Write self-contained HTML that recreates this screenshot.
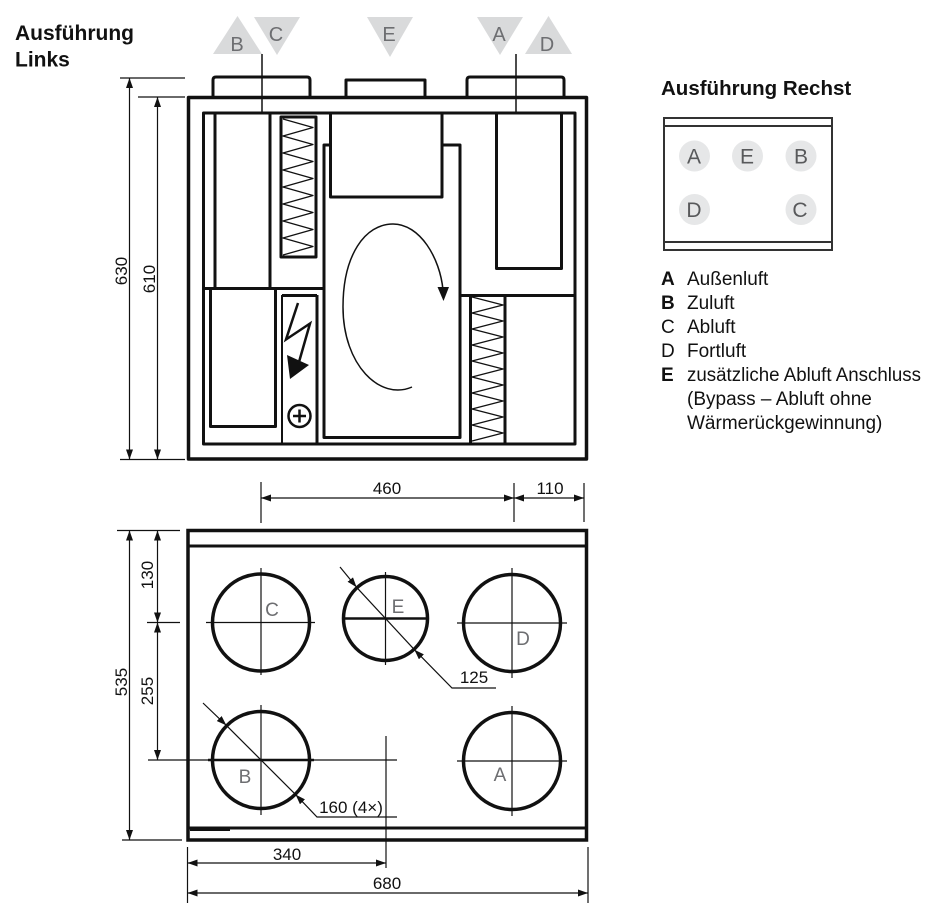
<!DOCTYPE html>
<html><head><meta charset="utf-8"><style>
html,body{margin:0;padding:0;background:#fff;}
svg{display:block;}
text{font-family:"Liberation Sans",sans-serif;}
</style></head><body>
<svg width="939" height="915" viewBox="0 0 939 915" xmlns="http://www.w3.org/2000/svg">
<defs>
<marker id="ar" viewBox="0 0 10 7" refX="10" refY="3.5" markerWidth="10" markerHeight="7" markerUnits="userSpaceOnUse" orient="auto-start-reverse">
<path d="M0,0 L10,3.5 L0,7 z" fill="#111"/>
</marker>
</defs>
<rect width="939" height="915" fill="#fff"/>

<!-- Titles -->
<text x="15" y="40" font-size="21" font-weight="bold" fill="#111">Ausführung</text>
<text x="15" y="66.5" font-size="21" font-weight="bold" fill="#111">Links</text>
<text x="661" y="95" font-size="20.5" font-weight="bold" fill="#111">Ausführung Rechst</text>

<!-- Top triangles -->
<g fill="#d9dadb">
<polygon points="213,54 262,54 237.5,16"/>
<polygon points="254,17 300,17 277,55"/>
<polygon points="367,17 413,17 390,57"/>
<polygon points="477,17 523,17 500,55"/>
<polygon points="525,54 572,54 548.5,16"/>
</g>
<g font-size="20" fill="#6d6e71" text-anchor="middle">
<text x="237" y="51">B</text>
<text x="276" y="41">C</text>
<text x="389" y="41">E</text>
<text x="499" y="41">A</text>
<text x="547" y="51">D</text>
</g>

<!-- Front view -->
<g fill="none" stroke="#111" stroke-linejoin="round">
<path d="M213,97 V80 Q213,77 216,77 H307 Q310,77 310,80 V97" stroke-width="3"/>
<path d="M346,97 V80 H425 V97" stroke-width="3"/>
<path d="M467,97 V80 Q467,77 470,77 H561 Q564,77 564,80 V97" stroke-width="3"/>
<line x1="262" y1="54" x2="262" y2="113" stroke-width="1.5"/>
<line x1="516" y1="54" x2="516" y2="113" stroke-width="1.5"/>
<rect x="188.5" y="97.5" width="398" height="361.5" stroke-width="3.5"/>
<rect x="203.5" y="113" width="371.5" height="331" stroke-width="3"/>
<line x1="215" y1="113" x2="215" y2="288" stroke-width="3"/>
<line x1="270" y1="113" x2="270" y2="288" stroke-width="3"/>
<line x1="203" y1="288.5" x2="324" y2="288.5" stroke-width="3"/>
<rect x="210.5" y="288.5" width="65" height="138" stroke-width="3"/>
<rect x="281" y="117" width="35" height="140" stroke-width="3"/>
<polyline stroke-width="1.3" points="283,119 313,127.5 283,136 313,144.5 283,153 313,161.5 283,170 313,178.5 283,187 313,195.5 283,204 313,212.5 283,221 313,229.5 283,238 313,246.5 283,255"/>
<line x1="282" y1="295" x2="282" y2="444" stroke-width="2"/>
<line x1="317" y1="295" x2="317" y2="444" stroke-width="3"/>
<line x1="282" y1="295.5" x2="317" y2="295.5" stroke-width="3"/>
<rect x="324" y="145" width="136" height="292.5" stroke-width="3"/>
<rect x="330.5" y="113" width="111.5" height="84" stroke-width="3" fill="#fff"/>
<rect x="496.5" y="113" width="65" height="155.5" stroke-width="3"/>
<line x1="460" y1="295.5" x2="575" y2="295.5" stroke-width="3"/>
<line x1="470.5" y1="295" x2="470.5" y2="444" stroke-width="3"/>
<line x1="505" y1="295" x2="505" y2="444" stroke-width="3"/>
<polyline stroke-width="1.3" points="472,297 503,305 472,313 503,321 472,329 503,337 472,345 503,353 472,361 503,369 472,377 503,385 472,393 503,401 472,409 503,417 472,425 503,433 472,441"/>
<path d="M412,387 C380,401 343,365 343,307 C343,255 365,224 393,224 C420,224 440,258 443,290" stroke-width="1.5"/>
<polyline points="298,303 286,339.5 310,323.5 299,362" stroke-width="2.5" stroke-linejoin="miter"/>
<circle cx="299.5" cy="416" r="11" stroke-width="2.5"/>
<line x1="293" y1="416" x2="306" y2="416" stroke-width="2.5"/>
<line x1="299.5" y1="409.5" x2="299.5" y2="422.5" stroke-width="2.5"/>
</g>
<polygon points="437.5,287 449,287 443.5,301" fill="#111"/>
<polygon points="287,355 309,365 290,379" fill="#111"/>

<!-- Front view dimensions -->
<g stroke="#111" stroke-width="1.2" fill="none">
<line x1="120" y1="78" x2="185" y2="78"/>
<line x1="138" y1="97" x2="185" y2="97"/>
<line x1="120" y1="459.5" x2="185" y2="459.5"/>
<line x1="129.5" y1="78" x2="129.5" y2="459.5" marker-start="url(#ar)" marker-end="url(#ar)"/>
<line x1="157.5" y1="97" x2="157.5" y2="459.5" marker-start="url(#ar)" marker-end="url(#ar)"/>
</g>
<g font-size="17" fill="#111" text-anchor="middle">
<text transform="translate(127,271) rotate(-90)">630</text>
<text transform="translate(155,279) rotate(-90)">610</text>
</g>

<!-- Bottom view -->
<g fill="none" stroke="#111">
<rect x="188" y="530.5" width="398.5" height="309.5" stroke-width="3.5"/>
<line x1="188" y1="546" x2="586" y2="546" stroke-width="3"/>
<line x1="188" y1="828" x2="586" y2="828" stroke-width="3"/>
<line x1="190" y1="830" x2="230" y2="830" stroke-width="2"/>
<circle cx="261" cy="622.5" r="48.5" stroke-width="3.5"/>
<circle cx="385.5" cy="618.5" r="42" stroke-width="3.5"/>
<circle cx="512" cy="623" r="48.5" stroke-width="3.5"/>
<circle cx="261" cy="760" r="48.5" stroke-width="3.5"/>
<circle cx="512" cy="761" r="48.5" stroke-width="3.5"/>
</g>
<g stroke="#111" stroke-width="1.2" fill="none">
<line x1="206" y1="622.5" x2="315" y2="622.5"/>
<line x1="261" y1="568" x2="261" y2="675"/>
<line x1="385.5" y1="572" x2="385.5" y2="665"/>
<line x1="457" y1="623" x2="567" y2="623"/>
<line x1="512" y1="568" x2="512" y2="678"/>
<line x1="261" y1="705" x2="261" y2="815"/>
<line x1="457" y1="761" x2="567" y2="761"/>
<line x1="512" y1="706" x2="512" y2="816"/>
<line x1="261" y1="482" x2="261" y2="523"/>
<line x1="514" y1="483" x2="514" y2="522"/>
<line x1="584" y1="483" x2="584" y2="522"/>
<line x1="261" y1="498" x2="514" y2="498" marker-start="url(#ar)" marker-end="url(#ar)"/>
<line x1="514" y1="498" x2="584" y2="498" marker-start="url(#ar)" marker-end="url(#ar)"/>
<line x1="117" y1="530.5" x2="180" y2="530.5"/>
<line x1="147" y1="622.5" x2="180" y2="622.5"/>
<line x1="148" y1="760" x2="397" y2="760"/>
<line x1="122" y1="840" x2="182" y2="840"/>
<line x1="157.5" y1="530.5" x2="157.5" y2="622.5" marker-start="url(#ar)" marker-end="url(#ar)"/>
<line x1="157.5" y1="622.5" x2="157.5" y2="760" marker-start="url(#ar)" marker-end="url(#ar)"/>
<line x1="129.5" y1="530.5" x2="129.5" y2="840" marker-start="url(#ar)" marker-end="url(#ar)"/>
<line x1="386" y1="736" x2="386" y2="868"/>
<line x1="187.5" y1="847" x2="187.5" y2="903"/>
<line x1="588" y1="847" x2="588" y2="903"/>
<line x1="187.5" y1="863" x2="386" y2="863" marker-start="url(#ar)" marker-end="url(#ar)"/>
<line x1="187.5" y1="893" x2="588" y2="893" marker-start="url(#ar)" marker-end="url(#ar)"/>
<line x1="340" y1="567" x2="356.6" y2="587.3" marker-end="url(#ar)"/>
<line x1="356.6" y1="587.3" x2="414.4" y2="649.7"/>
<polyline points="414.4,649.7 452,688 496,688" marker-start="url(#ar)"/>
<line x1="203" y1="703" x2="226.4" y2="725.4" marker-end="url(#ar)"/>
<line x1="226.4" y1="725.4" x2="295.6" y2="794.6"/>
<polyline points="295.6,794.6 317,817 397,817" marker-start="url(#ar)"/>
</g>
<g stroke="#111" stroke-width="2.5">
<line x1="343" y1="618.5" x2="428" y2="618.5"/>
<line x1="208" y1="760" x2="314" y2="760"/>
</g>
<g font-size="19" fill="#6d6e71" text-anchor="middle">
<text x="272" y="616">C</text>
<text x="398" y="613">E</text>
<text x="523" y="645">D</text>
<text x="245" y="783">B</text>
<text x="500" y="781">A</text>
</g>
<g font-size="17" fill="#111" text-anchor="middle">
<text x="387" y="494">460</text>
<text x="550" y="494">110</text>
<text x="474" y="683">125</text>
<text x="351" y="813">160 (4×)</text>
<text x="287" y="860">340</text>
<text x="387" y="889">680</text>
<text transform="translate(153,575) rotate(-90)">130</text>
<text transform="translate(153,691) rotate(-90)">255</text>
<text transform="translate(127,682) rotate(-90)">535</text>
</g>

<!-- Right panel -->
<g fill="none" stroke="#333" stroke-width="2">
<rect x="664" y="118" width="168" height="132"/>
<line x1="664" y1="126" x2="832" y2="126"/>
<line x1="664" y1="242" x2="832" y2="242"/>
</g>
<g fill="#e6e7e8">
<circle cx="694.5" cy="156" r="15.5"/>
<circle cx="747.5" cy="156" r="15.5"/>
<circle cx="801" cy="156" r="15.5"/>
<circle cx="694.5" cy="209.5" r="15.5"/>
<circle cx="801" cy="209.5" r="15.5"/>
</g>
<g font-size="21" fill="#58595b" text-anchor="middle">
<text x="694" y="163.5">A</text>
<text x="747" y="163.5">E</text>
<text x="801" y="163.5">B</text>
<text x="694" y="217">D</text>
<text x="800" y="217">C</text>
</g>

<!-- Legend -->
<g font-size="19" fill="#111">
<text x="661" y="285" font-weight="bold">A</text>
<text x="687" y="285">Außenluft</text>
<text x="661" y="309" font-weight="bold">B</text>
<text x="687" y="309">Zuluft</text>
<text x="661" y="333">C</text>
<text x="687" y="333">Abluft</text>
<text x="661" y="357">D</text>
<text x="687" y="357">Fortluft</text>
<text x="661" y="381" font-weight="bold">E</text>
<text x="687" y="381" textLength="234" lengthAdjust="spacingAndGlyphs">zusätzliche Abluft Anschluss</text>
<text x="687" y="405">(Bypass – Abluft ohne</text>
<text x="687" y="429">Wärmerückgewinnung)</text>
</g>
</svg>
</body></html>
